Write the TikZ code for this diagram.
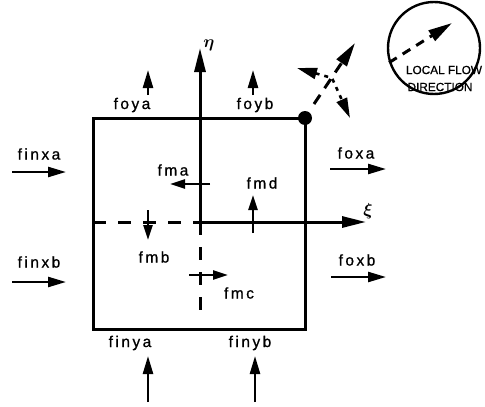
\documentclass[tikz,border=0pt]{standalone}
\usepackage{amsmath}
\usepackage{fontspec}
\setmainfont{Liberation Sans}
\newfontfamily\lblfont[LetterSpace=16,FakeBold=0.8]{Liberation Sans}
\newfontfamily\capsfont[FakeBold=0.8]{Liberation Sans}
\usetikzlibrary{arrows.meta,positioning,calc}
\tikzset{
  cellwall/.style={line width=3pt},
  axisarr/.style={line width=3pt, -{Triangle[length=24pt,width=11pt]}},
  cutline/.style={line width=3pt, dash pattern=on 13pt off 12pt},
  fluxarr/.style={line width=2.4pt, -{Triangle[length=18pt,width=10pt]}},
  midarr/.style={line width=2.4pt, -{Triangle[length=15pt,width=9pt]}},
  fluxlbl/.style={font=\lblfont\fontsize{15.5}{15.5}\selectfont, inner sep=0pt},
  greek/.style={font=\fontsize{17}{17}\selectfont, inner sep=0pt},
  capslbl/.style={font=\capsfont\fontsize{11.8}{11.8}\selectfont, inner sep=0pt},
  corner/.style={circle, fill, minimum size=14pt, inner sep=0pt},
  flowarr/.style={line width=3pt, dash pattern=on 11pt off 8pt, -{Triangle[length=24pt,width=12pt]}},
  tanarr/.style={line width=2.6pt, dash pattern=on 4pt off 5pt,
    {Triangle[length=20pt,width=11pt]}-{Triangle[length=20pt,width=11pt]}},
  dirring/.style={circle, draw, line width=2.4pt, minimum size=92pt, inner sep=0pt},
}

\begin{document}
\begin{tikzpicture}[x=1pt, y=-1pt]
  \useasboundingbox (0,0) rectangle (485,407);
  % cell and local axes
  \coordinate (sw) at (93,329);
  \coordinate (ne) at (305,118);
  \coordinate (o) at (200,222);
  \coordinate (etatip) at (200,48);
  \coordinate (xitip) at (366,222);
  \coordinate (cutw) at (93,222);
  \coordinate (cuts) at (200,313);
  \draw[cellwall] (sw) rectangle (ne);
  \draw[axisarr] (o) -- (etatip);
  \draw[axisarr] (o) -- (xitip);
  \draw[cutline] (cutw) -- (o);
  \draw[cutline] (o) -- (cuts);
  \node[greek] (eta) at (209,45) {$\boldsymbol{\eta}$};
  \node[greek] (xi) at (368,211) {$\boldsymbol{\xi}$};
  \node[corner] (dot) at (ne) {};

  % fluxes through the faces
  \node[fluxlbl] (finxa) at (39,154) {finxa};
  \node[fluxlbl] (finxb) at (39,262) {finxb};
  \node[fluxlbl] (foxa) at (356,153) {foxa};
  \node[fluxlbl] (foxb) at (357,260) {foxb};
  \node[fluxlbl] (foya) at (132,105) {foya};
  \node[fluxlbl] (foyb) at (255,105) {foyb};
  \node[fluxlbl] (finya) at (130,343) {finya};
  \node[fluxlbl] (finyb) at (250,343) {finyb};
  \coordinate (finxa-s) at (12,172);  \coordinate (finxa-e) at (66,172);
  \coordinate (finxb-s) at (12,282);  \coordinate (finxb-e) at (66,282);
  \coordinate (foxa-s) at (330,169);  \coordinate (foxa-e) at (386,169);
  \coordinate (foxb-s) at (331,277);  \coordinate (foxb-e) at (386,277);
  \coordinate (foya-s) at (148,95);   \coordinate (foya-e) at (148,70);
  \coordinate (foyb-s) at (253,95);   \coordinate (foyb-e) at (253,70);
  \coordinate (finya-s) at (148,402); \coordinate (finya-e) at (148,356);
  \coordinate (finyb-s) at (255,402); \coordinate (finyb-e) at (255,356);
  \foreach \f in {finxa,finxb,foxa,foxb,foya,foyb,finya,finyb}
    \draw[fluxarr] (\f-s) -- (\f-e);

  % fluxes across the internal cuts
  \node[fluxlbl] (fma) at (173,170) {fma};
  \node[fluxlbl] (fmd) at (262,183) {fmd};
  \node[fluxlbl] (fmb) at (154,257) {fmb};
  \node[fluxlbl] (fmc) at (239,293) {fmc};
  \coordinate (fma-s) at (210,184);  \coordinate (fma-e) at (170,184);
  \coordinate (fmd-s) at (253,233);  \coordinate (fmd-e) at (253,195);
  \coordinate (fmb-s) at (148,210);  \coordinate (fmb-e) at (148,240);
  \coordinate (fmc-s) at (189,275);  \coordinate (fmc-e) at (228,275);
  \foreach \f in {fma,fmd,fmb,fmc}
    \draw[midarr] (\f-s) -- (\f-e);

  % flow direction at the corner
  \coordinate (fbase) at (314,104);
  \coordinate (ftip) at (355,43);
  \coordinate (cross) at (332,78);
  \coordinate (ttipa) at (297,68);
  \coordinate (ttipb) at (350,118);
  \draw[flowarr] (fbase) -- (ftip);
  \draw[tanarr] (ttipa) -- (cross) -- (ttipb);

  % legend
  \node[dirring] (ring) at (434,48) {};
  \node[capslbl] (lflow) at (444,70) {LOCAL FLOW};
  \node[capslbl] (ldir) at (440,87) {DIRECTION};
  \coordinate (rtip) at (452,23);
  \draw[flowarr, dash pattern=on 9pt off 7pt] (ring.198) -- (rtip);
\end{tikzpicture}
\end{document}
